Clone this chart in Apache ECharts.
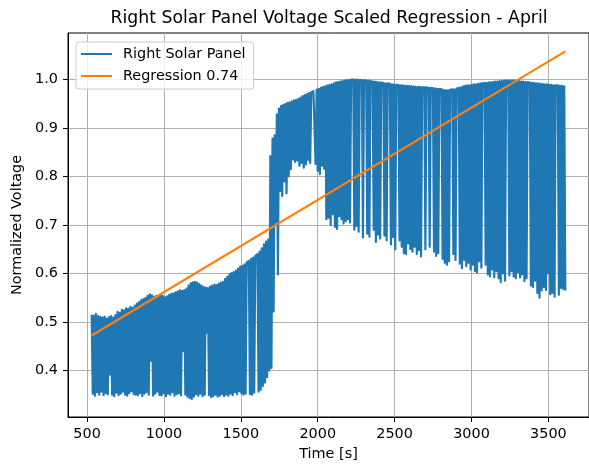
<!DOCTYPE html>
<html>
<head>
<meta charset="utf-8">
<script src="https://cdn.jsdelivr.net/npm/echarts@6/dist/echarts.min.js"></script>
<style>
  html, body { margin: 0; padding: 0; background: #ffffff; }
  #chart { width: 589px; height: 466px; }
</style>
</head>
<body>
<div id="chart"></div>
<script>
// Telemetry sample clock (seconds)
const sampleStart = 530;
const samplePeriod = 7;

// Normalized right-panel voltage, split by illumination phase
const voltageLowBand = [
  0.515,0.352, 0.513,0.348, 0.517,0.355, 0.512,0.350, 0.510,0.356, 0.509,0.349, 0.511,0.353, 0.507,0.351, 0.510,0.392, 0.512,0.350,
  0.509,0.347, 0.514,0.354, 0.521,0.349, 0.519,0.352, 0.525,0.356, 0.524,0.350, 0.528,0.348, 0.527,0.353, 0.531,0.357, 0.529,0.351,
  0.534,0.350, 0.538,0.349, 0.541,0.353, 0.545,0.347, 0.547,0.352, 0.550,0.355, 0.554,0.350, 0.557,0.420, 0.555,0.348, 0.552,0.352,
  0.554,0.356, 0.553,0.349, 0.556,0.349, 0.554,0.353, 0.551,0.347, 0.553,0.352, 0.556,0.350, 0.558,0.355, 0.559,0.348, 0.561,0.351,
  0.563,0.353, 0.565,0.349, 0.564,0.440, 0.566,0.350, 0.569,0.346, 0.575,0.343, 0.580,0.341, 0.582,0.346, 0.583,0.351, 0.581,0.348,
  0.578,0.352, 0.575,0.347, 0.572,0.350, 0.571,0.478, 0.570,0.349, 0.573,0.345, 0.575,0.347, 0.577,0.350, 0.576,0.346, 0.579,0.348,
  0.581,0.351, 0.583,0.347, 0.589,0.350, 0.593,0.348, 0.598,0.352, 0.601,0.349, 0.603,0.355, 0.606,0.351, 0.610,0.357, 0.614,0.353,
  0.616,0.350,
  0.619,0.352, 0.623,0.624, 0.626,0.351, 0.630,0.350, 0.633,0.354, 0.636,0.637, 0.640,0.356, 0.645,0.360, 0.652,0.368, 0.660,0.375,
  0.666,0.386, 0.670
];

const voltageRise = [
  0.400,0.842, 0.405,0.878, 0.522,0.885, 0.705,0.928, 0.598,0.940, 0.770,0.946, 0.760,0.948, 0.790,0.950, 0.765,0.952, 0.800,0.953,
  0.815,0.955, 0.835,0.957, 0.830
];

const voltagePlateau = [
  0.958,0.833, 0.960,0.822, 0.963,0.828, 0.966,0.818, 0.968,0.825, 0.970,0.834, 0.972,0.828,
  0.974,0.975, 0.976,0.977, 0.826,0.979, 0.812,0.981, 0.805,0.983, 0.822,0.985, 0.816,0.986, 0.712
];

const voltageHighBand = [
  0.988,0.715, 0.989,0.700, 0.990,0.722, 0.992,0.696, 0.994,0.692,
  0.995,0.718, 0.996,0.712, 0.997,0.703, 0.998,0.708, 0.999,0.712,
  0.999,0.705, 1.000,0.999, 1.000,0.690, 1.000,0.698, 1.000,0.686,
  0.999,0.999, 0.999,0.674, 0.999,0.998, 0.998,0.682, 0.998,0.676,
  0.997,0.996, 0.996,0.690, 0.996,0.665, 0.995,0.680, 0.994,0.672,
  0.994,0.993, 0.993,0.678, 0.992,0.668, 0.992,0.991, 0.991,0.660,
  0.990,0.675, 0.990,0.650, 0.989,0.989, 0.989,0.668, 0.988,0.655,
  0.988,0.642, 0.987,0.640, 0.987,0.662, 0.987,0.650, 0.986,0.645,
  0.986,0.655, 0.985,0.640, 0.985,0.648, 0.985,0.635, 0.984,0.984,
  0.984,0.650, 0.984,0.983, 0.983,0.655, 0.983,0.983, 0.982,0.645,
  0.982,0.636, 0.981,0.642, 0.981,0.980, 0.980,0.630, 0.979,0.622,
  0.978,0.618, 0.978,0.625, 0.979,0.979, 0.980,0.640, 0.980,0.628,
  0.981,0.982, 0.983,0.620, 0.984,0.611, 0.986,0.628, 0.987,0.615,
  0.988,0.622, 0.988,0.608, 0.989,0.618, 0.990,0.605, 0.990,0.602,
  0.991,0.625, 0.992,0.612, 0.992,0.992, 0.993,0.618, 0.993,0.598,
  0.994,0.594, 0.994,0.608, 0.995,0.592, 0.996,0.605, 0.996,0.590,
  0.997,0.582, 0.997,0.600, 0.998,0.585, 0.998,0.998, 0.998,0.596,
  0.998,0.605, 0.998,0.594, 0.998,0.590, 0.997,0.602, 0.997,0.592,
  0.996,0.598, 0.996,0.584, 0.995,0.590, 0.995,0.995, 0.994,0.575,
  0.993,0.572, 0.993,0.585, 0.992,0.560, 0.992,0.550, 0.991,0.565,
  0.991,0.572, 0.990,0.566, 0.990,0.600, 0.989,0.557, 0.989,0.560,
  0.988,0.552, 0.988,0.988, 0.988,0.556, 0.987,0.570, 0.987,0.568,
  0.986,0.565
];

// Linear fit end points
const regressionTime = [530, 3610];
const regressionValue = [0.472, 1.058];

// Axis ticks
const xTicks = [500, 1000, 1500, 2000, 2500, 3000, 3500];
const yTicks = [0.4, 0.5, 0.6, 0.7, 0.8, 0.9, 1.0];

const voltage = [].concat(voltageLowBand, voltageRise, voltagePlateau, voltageHighBand);
const panelData = voltage.map((v, i) => [sampleStart + i * samplePeriod, v]);
const regressionData = regressionTime.map((t, i) => [t, regressionValue[i]]);

const FONT = 'DejaVu Sans';
const BLUE = '#1f77b4';
const ORANGE = '#ff7f0e';
const LABEL_SIZE = 14.4;

const chart = echarts.init(document.getElementById('chart'), null, { renderer: 'canvas' });

chart.setOption({
  animation: false,
  backgroundColor: '#ffffff',
  title: {
    text: 'Right Solar Panel Voltage Scaled Regression - April',
    left: 329,
    top: 10,
    padding: 0,
    textAlign: 'center',
    textStyle: { fontFamily: FONT, fontSize: 17.3, fontWeight: 'normal', color: '#000000' }
  },
  legend: {
    orient: 'vertical',
    left: 76,
    top: 42,
    padding: [5, 8, 6, 5],
    itemGap: 8,
    itemWidth: 31,
    itemHeight: 2,
    icon: 'rect',
    backgroundColor: 'rgba(255,255,255,0.8)',
    borderColor: '#cccccc',
    borderWidth: 1,
    borderRadius: 3,
    textStyle: { fontFamily: FONT, fontSize: LABEL_SIZE, color: '#000000', padding: [0, 0, 0, 6] },
    data: [{ name: 'Right Solar Panel' }, { name: 'Regression 0.74' }]
  },
  grid: {
    left: 68,
    right: -1,
    top: 33,
    bottom: 46,
    show: true,
    borderColor: '#000000',
    borderWidth: 1,
    backgroundColor: 'transparent'
  },
  xAxis: {
    type: 'value',
    min: 376,
    max: 3764,
    name: 'Time [s]',
    nameLocation: 'middle',
    nameGap: 30,
    nameTextStyle: { fontFamily: FONT, fontSize: LABEL_SIZE, color: '#000000' },
    axisLine: { show: true, onZero: false, lineStyle: { color: '#000000', width: 1 } },
    axisTick: { show: true, length: 5, customValues: xTicks, lineStyle: { color: '#000000', width: 1 } },
    axisLabel: {
      customValues: xTicks, margin: 10, fontFamily: FONT, fontSize: LABEL_SIZE, color: '#000000',
      formatter: v => String(v)
    },
    splitLine: { show: true, lineStyle: { color: '#b0b0b0', width: 1 } }
  },
  yAxis: {
    type: 'value',
    min: 0.304,
    max: 1.096,
    name: 'Normalized Voltage',
    nameLocation: 'middle',
    nameGap: 40,
    nameTextStyle: { fontFamily: FONT, fontSize: LABEL_SIZE, color: '#000000' },
    axisLine: { show: true, onZero: false, lineStyle: { color: '#000000', width: 1 } },
    axisTick: { show: true, length: 5, customValues: yTicks, lineStyle: { color: '#000000', width: 1 } },
    axisLabel: {
      customValues: yTicks, margin: 10, fontFamily: FONT, fontSize: LABEL_SIZE, color: '#000000',
      formatter: v => v.toFixed(1)
    },
    splitLine: { show: true, lineStyle: { color: '#b0b0b0', width: 1 } }
  },
  series: [
    {
      name: 'Right Solar Panel',
      type: 'line',
      data: panelData,
      symbol: 'none',
      showSymbol: false,
      color: BLUE,
      lineStyle: { color: BLUE, width: 2.17, join: 'round' }
    },
    {
      name: 'Regression 0.74',
      type: 'line',
      data: regressionData,
      symbol: 'none',
      showSymbol: false,
      color: ORANGE,
      lineStyle: { color: ORANGE, width: 2.17 }
    }
  ]
});
</script>
</body>
</html>
